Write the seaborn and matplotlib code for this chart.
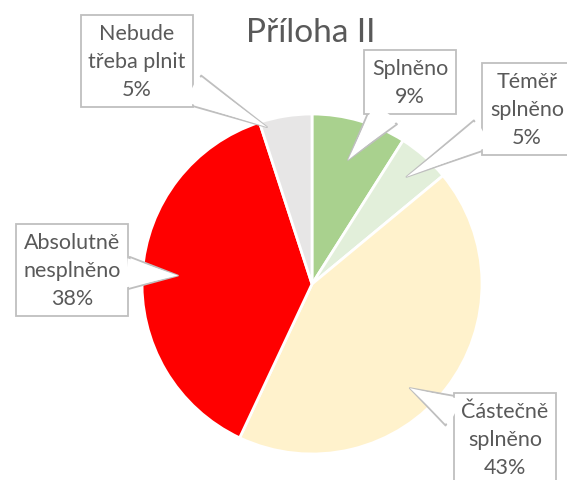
import numpy as np
import matplotlib.pyplot as plt
import seaborn as sns

kategorie = ['Splněno', 'Téměř\nsplněno', 'Částečně\nsplněno',
             'Absolutně\nnesplněno', 'Nebude\ntřeba plnit']
podil = [9, 5, 43, 38, 5]
barvy = ['#a9d18e', '#e2efda', '#fff2cc', '#ff0000', '#e7e6e6']

sns.set_theme(style='white')
plt.rcParams['font.family'] = ['Lato', 'DejaVu Sans']

W, H = 567, 481
cx, cy, R = 312, 285, 170

fig = plt.figure(figsize=(W / 100, H / 100), dpi=100)
ax = fig.add_axes([0, 0, 1, 1])
wedges, _ = ax.pie(podil, colors=barvy, startangle=90, counterclock=False,
                   radius=1, center=(0, 0),
                   wedgeprops=dict(edgecolor='white', linewidth=2))
ax.set_xlim(-cx / R, (W - cx) / R)
ax.set_ylim(-(H - cy) / R, cy / R)
ax.set_aspect('equal')
ax.axis('off')

def px(x, y):
    return (x - cx) / R, (cy - y) / R

# kde je popisek (pixely) a jak daleko od stredu je hrot
popisky = [(410, 83, 0.76), (527, 110, 0.84), (505, 440, 0.84),
           (72, 271, 0.79), (137, 62, 0.96)]
posun = [0, 0, -9, 0, 7]
fs = 15.5
ls = 1.5

for w, kat, p, (lx, ly, r), d in zip(wedges, kategorie, podil, popisky, posun):
    a = np.deg2rad((w.theta1 + w.theta2) / 2 + d)
    tip = (r * np.cos(a), r * np.sin(a))
    s = f'{kat}\n{p}%'
    ax.annotate(s, xy=tip, xytext=px(lx, ly), ha='center', va='center',
                fontsize=fs, color='#595959', linespacing=ls, zorder=3,
                bbox=dict(boxstyle='square,pad=0.35', fc='white',
                          ec='#bfbfbf', lw=1.3),
                arrowprops=dict(arrowstyle='wedge,tail_width=1.5',
                                fc='white', ec='#bfbfbf', lw=1.3,
                                shrinkA=0, shrinkB=0))
    # bila vypln pres hranu boxu, aby byl bublinovy popisek otevreny
    ax.annotate(s, xy=tip, xytext=px(lx, ly), ha='center', va='center',
                fontsize=fs, color='none', linespacing=ls, zorder=4,
                bbox=dict(boxstyle='square,pad=0.28', fc='none', ec='none'),
                arrowprops=dict(arrowstyle='wedge,tail_width=1.36',
                                fc='white', ec='none',
                                shrinkA=0, shrinkB=0))

ax.text(*px(311, 33), 'Příloha II', ha='center', va='center',
        fontsize=24, color='#595959')

plt.savefig('out.png', dpi=100)
